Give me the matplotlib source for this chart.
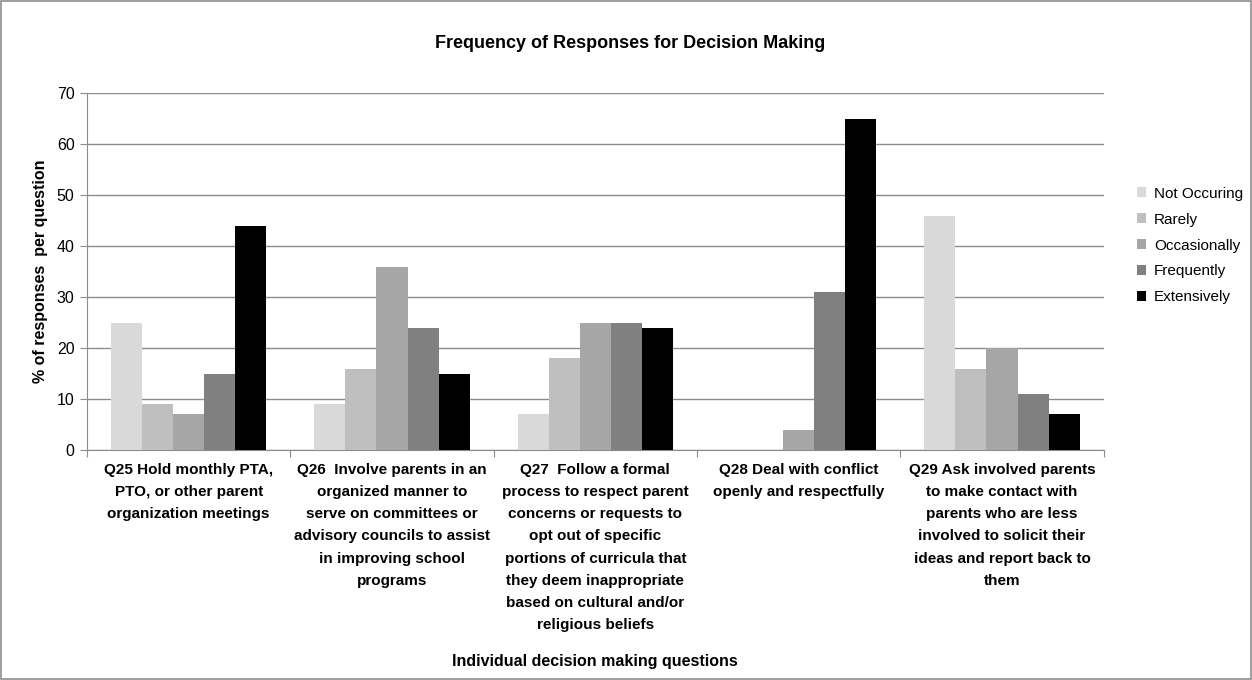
'''
Frequency of responses for decision making questions, grouped bars
'''
import numpy as np
import matplotlib
matplotlib.use('Agg')
import matplotlib.pyplot as plt
from matplotlib.patches import Rectangle

plt.rcParams['font.family'] = ['Liberation Sans', 'DejaVu Sans']

# data
questions = [
    'Q25 Hold monthly PTA,\nPTO, or other parent\norganization meetings',
    'Q26  Involve parents in an\norganized manner to\nserve on committees or\nadvisory councils to assist\nin improving school\nprograms',
    'Q27  Follow a formal\nprocess to respect parent\nconcerns or requests to\nopt out of specific\nportions of curricula that\nthey deem inappropriate\nbased on cultural and/or\nreligious beliefs',
    'Q28 Deal with conflict\nopenly and respectfully',
    'Q29 Ask involved parents\nto make contact with\nparents who are less\ninvolved to solicit their\nideas and report back to\nthem',
]
responses = ['Not Occuring', 'Rarely', 'Occasionally', 'Frequently', 'Extensively']
not_occuring = [25, 9, 7, 0, 46]
rarely = [9, 16, 18, 0, 16]
occasionally = [7, 36, 25, 4, 20]
frequently = [15, 24, 25, 31, 11]
extensively = [44, 15, 24, 65, 7]
series = [not_occuring, rarely, occasionally, frequently, extensively]
colors = ['#d9d9d9', '#bfbfbf', '#a6a6a6', '#808080', '#000000']

fig = plt.figure(figsize=(12.52, 6.8), dpi=100)
ax = fig.add_axes([0.0695, 0.338, 0.812, 0.525])

x = np.arange(len(questions))
w = 0.153
for i, (vals, c) in enumerate(zip(series, colors)):
    ax.bar(x + (i - 2) * w, vals, w, color=c, label=responses[i], zorder=3)

ax.set_xlim(-0.5, len(questions) - 0.5)
ax.set_ylim(0, 70)
ax.set_yticks(range(0, 71, 10))
ax.yaxis.grid(True, color='#8c8c8c', linewidth=1, zorder=0)
ax.set_axisbelow(True)

# category boundary ticks on the x axis, labels centred between them
ax.set_xticks(np.arange(-0.5, len(questions), 1.0))
ax.set_xticklabels([])
ax.set_xticks(x, minor=True)
ax.set_xticklabels(questions, minor=True, fontsize=11, fontweight='bold',
                   linespacing=1.75, va='top')
ax.tick_params(axis='x', which='minor', length=0, pad=9)
ax.tick_params(axis='x', which='major', length=5, color='#8c8c8c')
ax.tick_params(axis='y', length=5, color='#8c8c8c', labelsize=11.5, pad=4)

for s in ['top', 'right']:
    ax.spines[s].set_visible(False)
for s in ['left', 'bottom']:
    ax.spines[s].set_color('#8c8c8c')

ax.set_ylabel('% of responses  per question', fontsize=11.5, fontweight='bold', labelpad=6)
fig.text(0.475, 0.02, 'Individual decision making questions', ha='center',
         fontsize=11.5, fontweight='bold')
fig.text(0.503, 0.93, 'Frequency of Responses for Decision Making', ha='center',
         fontsize=13, fontweight='bold')

ax.legend(loc='upper left', bbox_to_anchor=(1.027, 0.755), frameon=False,
          fontsize=11, handlelength=0.6, handleheight=0.6, labelspacing=0.78,
          handletextpad=0.5, borderaxespad=0)

fig.patches.append(Rectangle((0.001, 0.001), 0.998, 0.997, transform=fig.transFigure,
                             fill=False, edgecolor='#8c8c8c', linewidth=1.2))

fig.savefig('out.png', dpi=100, facecolor='white')
